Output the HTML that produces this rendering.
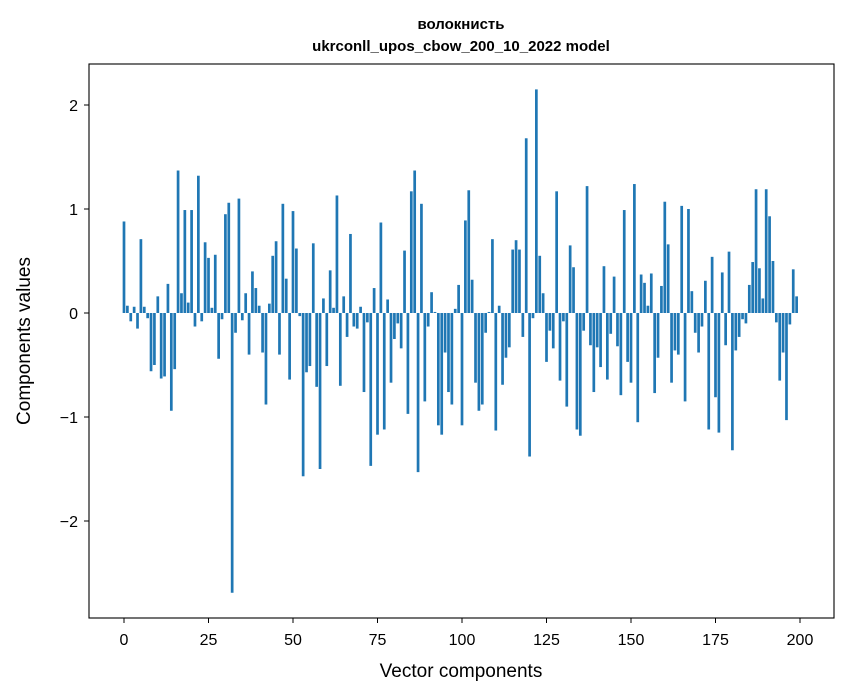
<!DOCTYPE html>
<html><head><meta charset="utf-8"><style>
html,body{margin:0;padding:0;background:#fff;width:847px;height:696px;overflow:hidden}
svg text{font-family:"Liberation Sans","DejaVu Sans",sans-serif;fill:#000}
</style></head><body>
<svg id="chart" width="847" height="696" xmlns="http://www.w3.org/2000/svg">
<text x="461" y="29" text-anchor="middle" font-size="15" font-weight="bold">волокнисть</text>
<text x="461" y="51" text-anchor="middle" font-size="15" font-weight="bold">ukrconll_upos_cbow_200_10_2022 model</text>
<g id="bars"></g>
<rect x="89" y="64" width="745" height="554" fill="none" stroke="#000" stroke-width="1.1"/>
<g id="xticks"></g>
<g id="yticks"></g>
<text x="461" y="677" text-anchor="middle" font-size="19">Vector components</text>
<text transform="translate(30,341) rotate(-90)" text-anchor="middle" font-size="19">Components values</text>
</svg>
<script>
const values = [0.88,0.07,-0.08,0.06,-0.15,0.71,0.06,-0.05,-0.56,-0.50,0.16,-0.63,-0.61,0.28,-0.94,-0.54,1.37,0.19,0.99,0.10,0.99,-0.13,1.32,-0.08,0.68,
0.53,0.05,0.56,-0.44,-0.06,0.95,1.06,-2.69,-0.19,1.10,-0.07,0.19,-0.40,0.40,0.24,0.07,-0.38,-0.88,0.09,0.55,0.69,-0.40,1.05,0.33,-0.64,
0.98,0.62,-0.03,-1.57,-0.57,-0.51,0.67,-0.71,-1.50,0.14,-0.51,0.41,0.05,1.13,-0.70,0.16,-0.23,0.76,-0.13,-0.15,0.06,-0.76,-0.09,-1.47,0.24,
-1.17,0.87,-1.12,0.13,-0.67,-0.25,-0.10,-0.34,0.60,-0.97,1.17,1.37,-1.53,1.05,-0.85,-0.13,0.20,0.01,-1.08,-1.17,-0.38,-0.76,-0.88,0.04,0.27,
-1.08,0.89,1.18,0.32,-0.67,-0.94,-0.88,-0.19,0.01,0.71,-1.13,0.07,-0.69,-0.43,-0.33,0.61,0.70,0.61,-0.23,1.68,-1.38,-0.05,2.15,0.55,0.19,
-0.47,-0.17,-0.34,1.17,-0.65,-0.08,-0.90,0.65,0.44,-1.12,-1.18,-0.17,1.22,-0.31,-0.76,-0.33,-0.52,0.45,-0.64,-0.20,0.35,-0.32,-0.79,0.99,-0.47,
-0.67,1.24,-1.05,0.37,0.29,0.07,0.38,-0.77,-0.43,0.26,1.07,0.66,-0.67,-0.36,-0.40,1.03,-0.85,1.00,0.21,-0.19,-0.38,-0.13,0.31,-1.12,0.54,
-0.81,-1.15,0.39,-0.31,0.59,-1.32,-0.36,-0.23,-0.06,-0.10,0.27,0.49,1.19,0.43,0.14,1.19,0.93,0.50,-0.09,-0.65,-0.38,-1.03,-0.11,0.42,0.16];
const xTickValues = [0,25,50,75,100,125,150,175,200];
const yTickValues = [-2,-1,0,1,2];
const yTickLabels = ["\u22122","\u22121","0","1","2"];

const NS="http://www.w3.org/2000/svg";
function xs(v){return 124 + v*3.38;}
function ys(v){return 313 - v*104;}
const barsG=document.getElementById('bars');
values.forEach((v,i)=>{
  const r=document.createElementNS(NS,'rect');
  
  
  const y0=ys(Math.max(v,0)), y1=ys(Math.min(v,0));
  r.setAttribute('x',xs(i-0.4));
  r.setAttribute('width',0.8*3.38);
  r.setAttribute('y',y0);
  r.setAttribute('height',Math.max(y1-y0,0.01));
  r.setAttribute('fill','#1f77b4');
  barsG.appendChild(r);
});
const xg=document.getElementById('xticks');
xTickValues.forEach(t=>{
  const l=document.createElementNS(NS,'line');
  
  
  l.setAttribute('x1',xs(t));l.setAttribute('x2',xs(t));
  l.setAttribute('y1',618);l.setAttribute('y2',623);
  l.setAttribute('stroke','#000');
  xg.appendChild(l);
  const tx=document.createElementNS(NS,'text');
  
  
  tx.setAttribute('x',xs(t));tx.setAttribute('y',645);
  tx.setAttribute('text-anchor','middle');tx.setAttribute('font-size','16');
  tx.textContent=t;
  xg.appendChild(tx);
});
const yg=document.getElementById('yticks');
yTickValues.forEach((t,k)=>{
  const l=document.createElementNS(NS,'line');
  
  
  l.setAttribute('x1',84);l.setAttribute('x2',89);
  l.setAttribute('y1',ys(t));l.setAttribute('y2',ys(t));
  l.setAttribute('stroke','#000');
  yg.appendChild(l);
  const tx=document.createElementNS(NS,'text');
  
  
  tx.setAttribute('x',78);tx.setAttribute('y',ys(t)+6);
  tx.setAttribute('text-anchor','end');tx.setAttribute('font-size','16');
  tx.textContent=yTickLabels[k];
  yg.appendChild(tx);
});
</script>
</body></html>
